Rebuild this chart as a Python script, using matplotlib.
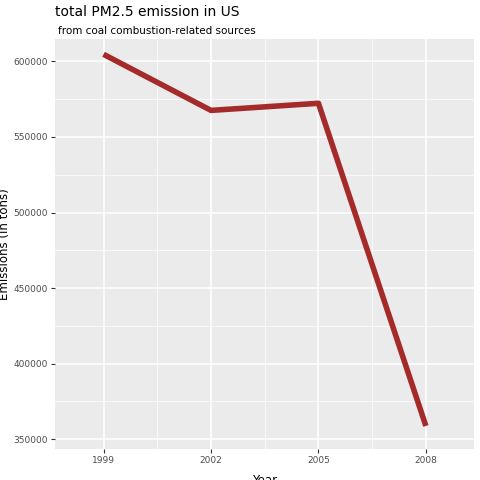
import matplotlib.pyplot as plt

years = [1999, 2002, 2005, 2008]
emissions = [604700, 567600, 572300, 358800]
yticks = [350000, 400000, 450000, 500000, 550000, 600000]

fig = plt.figure(figsize=(4.8, 4.8), dpi=100)
ax = fig.add_axes([0.115, 0.065, 0.873, 0.853])
ax.set_facecolor('#EBEBEB')
ax.plot(years, emissions, color='#A52A2A', linewidth=4, solid_capstyle='butt', zorder=3)

ax.set_xlim(1999 - 0.15 * 9, 2008 + 0.15 * 9)
ax.set_ylim(343700, 614600)
ax.set_xticks(years)
ax.set_yticks(yticks)
ax.set_xticks([2000.5, 2003.5, 2006.5], minor=True)
ax.set_yticks([375000, 425000, 475000, 525000, 575000], minor=True)
ax.grid(which='major', color='white', linewidth=1.1)
ax.grid(which='minor', color='white', linewidth=0.5)
ax.set_axisbelow(True)
for s in ax.spines.values():
    s.set_visible(False)
ax.tick_params(which='major', labelsize=6.5, colors='#4D4D4D', length=3, color='#333333', pad=2)
ax.tick_params(which='minor', length=0)
ax.set_xlabel('Year', fontsize=8.5)
ax.set_ylabel('Emissions (in tons)', fontsize=8.5)
ax.xaxis.set_label_coords(0.5, -0.062)
ax.yaxis.set_label_coords(-0.105, 0.5)

fig.text(0.115, 0.966, 'total PM2.5 emission in US', fontsize=10)
fig.text(0.12, 0.929, 'from coal combustion-related sources', fontsize=7.5)

fig.savefig('out.png', dpi=100)
